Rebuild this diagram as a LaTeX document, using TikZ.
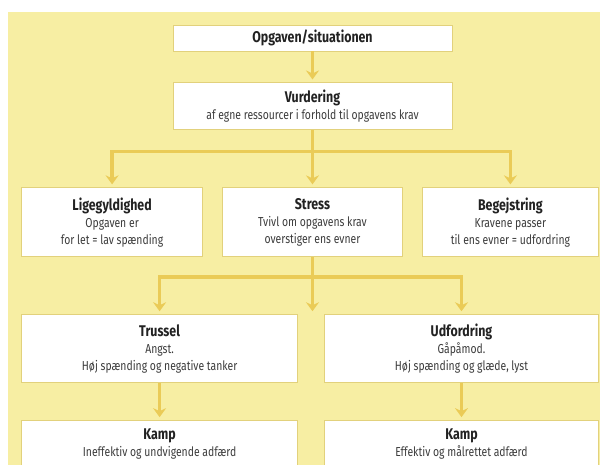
\documentclass[tikz,border=0pt]{standalone}
\usepackage{fontspec}
\setmainfont{Fira Sans}[FakeStretch=0.8]
\usetikzlibrary{arrows.meta,positioning}
\definecolor{bgyellow}{HTML}{F7EEA3}
\definecolor{arrgold}{HTML}{EACB57}
\definecolor{boxedge}{HTML}{E2D17C}
\definecolor{txtgray}{HTML}{3C3C3C}
\definecolor{headgray}{HTML}{222222}
\newcommand{\boxhead}[1]{{\fontsize{15.5}{17}\selectfont\bfseries\color{headgray}#1}}
\tikzset{
  box style/.style={rectangle, draw=boxedge, fill=white, line width=0.9pt,
    inner sep=0pt, align=center, text=txtgray, font=\fontsize{13}{17}\selectfont},
  arr style/.style={-{Stealth[length=9pt,width=13pt,inset=3pt]}, line width=3.5pt,
    arrgold, shorten >=3pt}
}

\begin{document}
\begin{tikzpicture}[x=1pt,y=1pt]
\useasboundingbox (0,0) rectangle (600,-465);
\fill[bgyellow] (8,-12) rectangle (600,-465);
\node[box style, minimum width=279pt, minimum height=26pt] (opg) at (312.5,-38)
  {\boxhead{Opgaven/situationen}};
\node[box style, minimum width=279pt, minimum height=47pt, below=31pt of opg] (vurd)
  {\boxhead{Vurdering}\\af egne ressourcer i forhold til opgavens krav};
\node[box style, minimum width=180pt, minimum height=69pt, below=57pt of vurd] (stress)
  {\boxhead{Stress}\\Tvivl om opgavens krav\\overstiger ens evner};
\node[box style, minimum width=181pt, minimum height=69pt, left=19pt of stress] (lige)
  {\boxhead{Ligegyldighed}\\Opgaven er\\for let = lav spænding};
\node[box style, minimum width=176pt, minimum height=69pt, right=19pt of stress] (begej)
  {\boxhead{Begejstring}\\Kravene passer\\til ens evner = udfordring};
\node[box style, minimum width=276pt, minimum height=68pt, below=57pt of lige.south west,
  anchor=north west] (trussel)
  {\boxhead{Trussel}\\Angst.\\Høj spænding og negative tanker};
\node[box style, minimum width=274pt, minimum height=68pt, right=26pt of trussel] (udf)
  {\boxhead{Udfordring}\\Gåpåmod.\\Høj spænding og glæde, lyst};
\node[box style, minimum width=276pt, minimum height=46pt, below=37pt of trussel] (kamp1)
  {\boxhead{Kamp}\\Ineffektiv og undvigende adfærd};
\node[box style, minimum width=274pt, minimum height=46pt, below=37pt of udf] (kamp2)
  {\boxhead{Kamp}\\Effektiv og målrettet adfærd};
\draw[arr style] (opg) -- (vurd);
\coordinate[below=21pt of vurd.south] (split1);
\draw[arr style] (vurd.south) -- (split1) -| (lige);
\draw[arr style] (split1) -- (stress);
\draw[arr style] (split1) -| (begej);
\coordinate[below=20pt of stress.south] (split2);
\coordinate (gap) at (split2 |- trussel.north);
\draw[arr style] (stress.south) -- (split2) -| (trussel);
\draw[arr style] (split2) -- (gap);
\draw[arr style] (split2) -| (udf);
\draw[arr style] (trussel) -- (kamp1);
\draw[arr style] (udf) -- (kamp2);
\end{tikzpicture}
\end{document}
